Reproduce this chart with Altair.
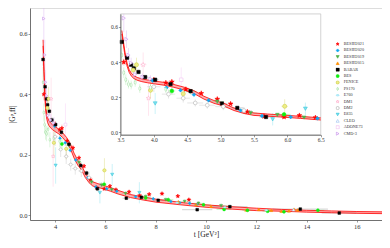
import altair as alt
import pandas as pd

# ---------------- data ----------------
SERIES = ["BESIII2021", "BESIII2020", "BESIII2019", "BESIII2015", "BABAR", "BES",
          "FENICE", "PS170", "E760", "DM1", "DM2", "E835", "CLEO", "ADONE73", "CMD-3"]

STAR = "M0,-1L0.235,-0.324L0.951,-0.309L0.38,0.124L0.588,0.809L0,0.4L-0.588,0.809L-0.38,0.124L-0.951,-0.309L-0.235,-0.324Z"
VELL = "M0,-1C0.6,-1 0.6,1 0,1C-0.6,1 -0.6,-1 0,-1Z"
HELL = "M-1,0C-1,-0.6 1,-0.6 1,0C1,0.6 -1,0.6 -1,0Z"

SHAPES = [STAR, "diamond", "triangle-down", "triangle-up", "square", "circle",
          "circle", VELL, HELL, STAR, "circle", "triangle-down", "triangle-up", "square", "triangle-right"]
FILLS = ["#ff0000", "#10a8f0", "#4fb04a", "#ff9000", "#000000", "#10ee10",
         "#eeee88", "#ffffff", "#c8f4ff", "#ffffff", "#ffffff", "#7fe0ee", "#ffffff", "#ffffff", "#ffffff"]
STROKES = ["#ff0000", "#10a8f0", "#4fb04a", "#ff9000", "#000000", "#10ee10",
           "#c8c838", "#88d888", "#88dcf0", "#ffa8c8", "#a8a8a8", "#30c4d8", "#98bff0", "#f0b8f0", "#c080e8"]
ERRCOL = ["#ff7070", "#70c8f4", "#8ccc88", "#ffb860", "#8c8c8c", "#70ee70",
          "#d8d870", "#b0e8b0", "#a8e8f8", "#ffc0d8", "#c0c0c0", "#80e0ee", "#b8d4f4", "#f4c8f4", "#d8a8f0"]
SIZES = [1.8, 1.0, 1.0, 1.0, 0.8, 1.0, 1.2, 1.3, 1.2, 1.6, 1.0, 1.1, 1.0, 0.9, 1.0]

# (t, |G|, dt, dG)
BESIII2021 = [(3.55, 0.400, 0.01, 0.020), (4.00, 0.300, 0.02, 0.012), (4.18, 0.283, 0.03, 0.010),
              (4.27, 0.288, 0.03, 0.012), (4.48, 0.246, 0.03, 0.010), (4.71, 0.223, 0.04, 0.010),
              (4.95, 0.190, 0.04, 0.010), (5.15, 0.163, 0.04, 0.008), (5.40, 0.118, 0.05, 0.008),
              (5.65, 0.092, 0.05, 0.006), (5.95, 0.088, 0.05, 0.006), (6.18, 0.097, 0.05, 0.006),
              (6.42, 0.085, 0.05, 0.006), (6.94, 0.078, 0.10, 0.006), (7.36, 0.066, 0.10, 0.006),
              (7.74, 0.070, 0.10, 0.006), (8.25, 0.072, 0.10, 0.006), (8.88, 0.064, 0.10, 0.006),
              (9.32, 0.052, 0.10, 0.005)]
BESIII2020 = [(3.98, 0.295, 0.02, 0.010), (4.19, 0.255, 0.02, 0.010), (4.40, 0.240, 0.02, 0.010),
              (4.60, 0.215, 0.03, 0.008), (4.82, 0.183, 0.03, 0.008), (5.30, 0.125, 0.03, 0.006),
              (5.62, 0.094, 0.03, 0.005), (6.05, 0.088, 0.04, 0.005), (6.45, 0.080, 0.04, 0.005),
              (7.20, 0.062, 0.05, 0.004), (7.90, 0.055, 0.05, 0.004), (8.60, 0.046, 0.05, 0.004),
              (8.95, 0.042, 0.05, 0.004), (9.35, 0.040, 0.05, 0.004), (9.62, 0.036, 0.05, 0.004)]
BESIII2019 = [(4.55, 0.232, 0.10, 0.015), (4.95, 0.175, 0.10, 0.012), (5.45, 0.110, 0.10, 0.010),
              (5.85, 0.100, 0.10, 0.010), (6.25, 0.085, 0.10, 0.008), (6.80, 0.072, 0.15, 0.008),
              (7.60, 0.062, 0.20, 0.008), (8.40, 0.052, 0.20, 0.007), (9.15, 0.046, 0.25, 0.007),
              (9.70, 0.040, 0.25, 0.007), (10.60, 0.032, 0.40, 0.008)]
BESIII2015 = [(8.90, 0.045, 0.05, 0.005), (9.60, 0.036, 0.05, 0.005), (10.20, 0.030, 0.05, 0.005),
              (11.60, 0.018, 0.05, 0.004), (12.10, 0.020, 0.05, 0.004), (12.60, 0.017, 0.05, 0.004),
              (13.00, 0.014, 0.05, 0.004), (13.30, 0.015, 0.05, 0.005), (13.50, 0.020, 0.05, 0.006),
              (13.65, 0.018, 0.05, 0.006)]
BABAR = [(3.52, 0.515, 0.01, 0.020), (3.60, 0.425, 0.02, 0.015), (3.66, 0.385, 0.02, 0.012),
         (3.70, 0.365, 0.02, 0.012), (3.77, 0.344, 0.03, 0.012), (3.87, 0.315, 0.04, 0.010),
         (4.02, 0.300, 0.05, 0.010), (4.25, 0.275, 0.06, 0.010), (4.55, 0.235, 0.07, 0.010),
         (5.02, 0.165, 0.08, 0.010), (5.25, 0.140, 0.09, 0.008), (5.68, 0.088, 0.10, 0.008),
         (6.83, 0.057, 0.15, 0.006), (7.43, 0.060, 0.15, 0.006), (8.10, 0.050, 0.20, 0.006),
         (9.65, 0.019, 0.60, 0.004), (10.95, 0.029, 0.70, 0.005), (13.75, 0.021, 1.10, 0.004),
         (15.30, 0.008, 0.70, 0.004)]
BES = [(4.27, 0.236, 0.05, 0.020), (5.95, 0.103, 0.10, 0.010), (7.60, 0.058, 0.20, 0.008),
       (8.50, 0.052, 0.20, 0.007), (9.90, 0.035, 0.30, 0.006), (10.72, 0.020, 0.30, 0.005),
       (11.65, 0.017, 0.20, 0.005), (12.45, 0.014, 0.20, 0.004), (13.10, 0.012, 0.20, 0.004),
       (14.45, 0.017, 0.25, 0.006)]
FENICE = [(3.69, 0.355, 0.02, 0.030), (3.74, 0.385, 0.02, 0.040), (3.95, 0.240, 0.03, 0.050),
          (4.44, 0.220, 0.03, 0.035), (5.96, 0.149, 0.05, 0.040)]
PS170 = [(3.52, 0.440, 0.005, 0.050), (3.55, 0.340, 0.005, 0.030), (3.58, 0.300, 0.005, 0.030),
         (3.62, 0.275, 0.005, 0.025), (3.66, 0.270, 0.005, 0.025), (3.72, 0.285, 0.005, 0.025),
         (3.79, 0.250, 0.005, 0.025), (3.95, 0.255, 0.010, 0.020), (4.18, 0.245, 0.010, 0.020)]
E760 = [(8.85, 0.042, 0.05, 0.005), (10.75, 0.027, 0.05, 0.004), (12.40, 0.017, 0.05, 0.004)]
DM1 = [(3.84, 0.385, 0.05, 0.070), (3.92, 0.195, 0.03, 0.100)]
DM2 = [(4.00, 0.260, 0.10, 0.030), (4.22, 0.218, 0.10, 0.025), (4.44, 0.195, 0.10, 0.025),
       (4.62, 0.168, 0.12, 0.020), (4.80, 0.155, 0.12, 0.020), (5.04, 0.147, 0.12, 0.020),
       (5.35, 0.125, 0.12, 0.020)]
E835 = [(4.02, 0.165, 0.01, 0.060), (5.78, 0.075, 0.01, 0.035), (6.27, 0.135, 0.01, 0.035),
        (7.35, 0.075, 0.02, 0.035)]
CLEO = [(13.48, 0.019, 0.05, 0.003)]
ADONE73 = [(4.41, 0.300, 0.02, 0.070)]
CMD3 = [(3.55, 0.650, 0.005, 0.080), (3.59, 0.530, 0.005, 0.050), (3.62, 0.440, 0.005, 0.040),
        (3.66, 0.395, 0.005, 0.030), (3.72, 0.330, 0.005, 0.025), (3.83, 0.315, 0.010, 0.020),
        (3.95, 0.305, 0.010, 0.020)]
ALL = [BESIII2021, BESIII2020, BESIII2019, BESIII2015, BABAR, BES, FENICE, PS170, E760,
       DM1, DM2, E835, CLEO, ADONE73, CMD3]

# fitted curve (central value and band half width)
curve_t = [3.52, 3.54, 3.56, 3.58, 3.60, 3.63, 3.66, 3.70, 3.75, 3.82, 3.90, 4.00, 4.15, 4.30,
           4.45, 4.60, 4.75, 4.90, 5.05, 5.20, 5.35, 5.50, 5.70, 5.90, 6.20, 6.50, 7.00, 7.50,
           8.00, 9.00, 10.0, 11.0, 12.0, 13.0, 14.0, 15.0, 16.0, 17.0]
curve_v = [0.570, 0.520, 0.465, 0.420, 0.385, 0.350, 0.330, 0.315, 0.305, 0.297, 0.291, 0.285,
           0.277, 0.265, 0.250, 0.230, 0.198, 0.174, 0.158, 0.132, 0.115, 0.104, 0.099, 0.094,
           0.086, 0.077, 0.064, 0.056, 0.049, 0.039, 0.031, 0.025, 0.020, 0.017, 0.014, 0.012,
           0.010, 0.009]
curve_hw = [0.010, 0.010, 0.010, 0.009, 0.009, 0.008, 0.008, 0.008, 0.008, 0.008, 0.008, 0.008,
            0.008, 0.008, 0.008, 0.008, 0.008, 0.008, 0.008, 0.007, 0.007, 0.007, 0.006, 0.006,
            0.006, 0.006, 0.005, 0.005, 0.005, 0.004, 0.004, 0.004, 0.004, 0.003, 0.003, 0.003,
            0.003, 0.003]

MAIN_X_TICKS = [4, 6, 8, 10, 12, 14, 16]
INSET_X_TICKS = [3.5, 4.0, 4.5, 5.0, 5.5, 6.0, 6.5]
Y_TICKS = [0.0, 0.1, 0.2, 0.3, 0.4, 0.5, 0.6]

# ---------------- tables ----------------
rows = []
for name, ecol, rel, pts in zip(SERIES, ERRCOL, SIZES, ALL):
    for (t, v, dt, dv) in pts:
        rows.append(dict(series=name, t=t, v=v, tlo=t - dt, thi=t + dt,
                         vlo=v - dv, vhi=v + dv, ecol=ecol, rel=rel))
df = pd.DataFrame(rows)
cdf = pd.DataFrame({"t": curve_t, "v": curve_v,
                    "lo": [a - b for a, b in zip(curve_v, curve_hw)],
                    "hi": [a + b for a, b in zip(curve_v, curve_hw)]})

# ---------------- layout ----------------
W, H = 352, 212
SERIF = "Liberation Serif"
IX0, IX1 = 0.257 * W, 0.826 * W
IY0, IY1 = 0.028 * H, 0.598 * H
MAIN_XD = [3, 17]
MAIN_YD = [-0.015, 0.685]
IN_XD = [3.5, 6.5]
IN_YD = [-0.013, 0.674]

sx_main = alt.Scale(domain=MAIN_XD, nice=False, zero=False)
sy_main = alt.Scale(domain=MAIN_YD, nice=False, zero=False)
sx_in = alt.Scale(domain=IN_XD, range=[IX0, IX1], nice=False, zero=False, clamp=True)
sy_in = alt.Scale(domain=IN_YD, range=[IY1, IY0], nice=False, zero=False, clamp=True)

ax_style = dict(grid=False, labelFont=SERIF, labelColor="#333333", domainColor="#555555",
                tickColor="#555555", tickSize=2, tickWidth=0.6, domainWidth=0.8,
                labelPadding=1, labelFlush=False, labelOverlap=False)
ax_main_x = alt.Axis(values=MAIN_X_TICKS, format="d", title="t [GeV²]", titleFont=SERIF,
                     titleFontSize=7.5, titleFontWeight="normal", titleColor="#222222",
                     titlePadding=1, labelFontSize=6.5, **ax_style)
ax_main_y = alt.Axis(values=Y_TICKS, format=".1f", title="|Gᵖₑff|", titleFont=SERIF,
                     titleFontSize=7.5, titleFontWeight="normal", titleColor="#222222",
                     titlePadding=2, labelFontSize=6.5, **ax_style)
ax_in_x = alt.Axis(values=INSET_X_TICKS, format=".1f", title=None, orient="bottom",
                   offset=-(H - IY1), zindex=1, labelFontSize=5.5, **ax_style)
ax_in_y = alt.Axis(values=Y_TICKS, format=".1f", title=None, orient="left",
                   offset=-IX0, zindex=1, labelFontSize=5.5, **ax_style)

legend = alt.Legend(orient="none", legendX=0.868 * W, legendY=0.16 * H, title=None,
                    labelFont=SERIF, labelFontSize=4.2, labelColor="#333333", symbolSize=10,
                    symbolStrokeWidth=0.6, rowPadding=1.4, clipHeight=4.3, labelOffset=4,
                    padding=0)

shape_sc = alt.Scale(domain=SERIES, range=SHAPES)
fill_sc = alt.Scale(domain=SERIES, range=FILLS)
stroke_sc = alt.Scale(domain=SERIES, range=STROKES)


def panel(sx, sy, axx, axy, base, inset):
    pts_src = alt.Chart(df)
    cur_src = alt.Chart(cdf)
    if inset:
        pts_src = pts_src.transform_filter((alt.datum.t >= IN_XD[0]) & (alt.datum.t <= IN_XD[1]))
        cur_src = cur_src.transform_filter((alt.datum.t >= IN_XD[0]) & (alt.datum.t <= IN_XD[1]))
    clip = not inset
    band = cur_src.mark_area(color="#ffa0a0", opacity=0.85, clip=clip).encode(
        x=alt.X("t:Q", scale=sx, axis=axx), y=alt.Y("lo:Q", scale=sy, axis=axy), y2="hi:Q")
    lo_line = cur_src.mark_line(color="#ff0000", strokeWidth=0.8, clip=clip).encode(
        x=alt.X("t:Q", scale=sx), y=alt.Y("lo:Q", scale=sy))
    hi_line = cur_src.mark_line(color="#ff0000", strokeWidth=0.8, clip=clip).encode(
        x=alt.X("t:Q", scale=sx), y=alt.Y("hi:Q", scale=sy))
    ev = pts_src.mark_rule(strokeWidth=0.5, opacity=0.8, clip=clip).encode(
        x=alt.X("t:Q", scale=sx), y=alt.Y("vlo:Q", scale=sy), y2="vhi:Q",
        color=alt.Color("ecol:N", scale=None))
    eh = pts_src.mark_rule(strokeWidth=0.5, opacity=0.8, clip=clip).encode(
        x=alt.X("tlo:Q", scale=sx), x2="thi:Q", y=alt.Y("v:Q", scale=sy),
        color=alt.Color("ecol:N", scale=None))
    pts = pts_src.transform_calculate(sz=f"datum.rel * {base}").mark_point(
        opacity=1, strokeWidth=0.5, clip=clip).encode(
        x=alt.X("t:Q", scale=sx), y=alt.Y("v:Q", scale=sy),
        size=alt.Size("sz:Q", scale=None, legend=None),
        shape=alt.Shape("series:N", scale=shape_sc, legend=legend),
        fill=alt.Fill("series:N", scale=fill_sc, legend=legend),
        stroke=alt.Stroke("series:N", scale=stroke_sc, legend=legend))
    layers = [band, ev, eh, lo_line, hi_line, pts]
    if inset:
        box = pd.DataFrame({"x0": [IN_XD[0]], "x1": [IN_XD[1]], "y0": [IN_YD[0]], "y1": [IN_YD[1]]})
        frame = alt.Chart(box).mark_rect(fill="white", stroke="#c8c8c8", strokeWidth=0.8).encode(
            x=alt.X("x0:Q", scale=sx, axis=axx), x2="x1:Q",
            y=alt.Y("y0:Q", scale=sy, axis=axy), y2="y1:Q")
        layers = [frame] + layers
    return alt.layer(*layers)


main = panel(sx_main, sy_main, ax_main_x, ax_main_y, 9, False)
inset = panel(sx_in, sy_in, ax_in_x, ax_in_y, 14, True)

chart = alt.layer(main, inset).resolve_scale(x="independent", y="independent").properties(
    width=W, height=H, padding=0
).configure_view(stroke="#c0c0c0", strokeWidth=0.8).configure(background="white")

chart.save("out.html", embed_options={"renderer": "svg", "actions": False})
